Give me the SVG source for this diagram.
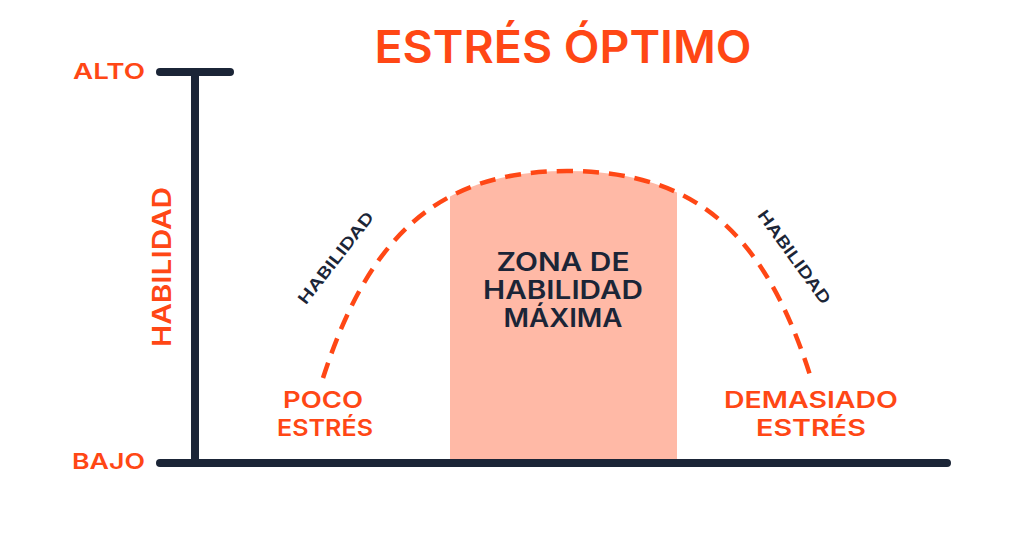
<svg xmlns="http://www.w3.org/2000/svg" width="1015" height="533" viewBox="0 0 1015 533">
<style>
.t{font-family:Inter,"Open Sans","Liberation Sans",sans-serif;font-weight:600}
.o{fill:#ff4715}
.n{fill:#1b2537}
.ax{stroke:#1b2537;stroke-width:8;stroke-linecap:round;fill:none}
.arc{stroke:#ff4715;stroke-width:4.5;fill:none;stroke-dasharray:16 10}
</style>
<defs>
<clipPath id="zc"><rect x="450" y="150" width="227" height="320"/></clipPath>
</defs>
<rect width="1015" height="533" fill="#ffffff"/>
<g id="zone">
<path d="M323,378 C368,238 437,171 567,171 C697,171 765,235 810,375 L810,462 L323,462 Z" fill="#ffb9a6" clip-path="url(#zc)"/>
<text class="t n" x="563" y="271" font-size="25" text-anchor="middle" textLength="133" lengthAdjust="spacingAndGlyphs">ZONA DE</text>
<text class="t n" x="563" y="299" font-size="25" text-anchor="middle" textLength="160" lengthAdjust="spacingAndGlyphs">HABILIDAD</text>
<text class="t n" x="563" y="327" font-size="25" text-anchor="middle" textLength="119" lengthAdjust="spacingAndGlyphs">MÁXIMA</text>
</g>
<g id="connectors">
<path class="ax" d="M160,72 L230,72"/>
<path class="ax" d="M195,72 L195,463"/>
<path class="ax" d="M160,463 L947,463"/>
<path class="arc" d="M323,378 C368,238 437,171 567,171 C697,171 765,235 810,375"/>
</g>
<g id="title">
<text class="t o" x="563" y="63" font-size="45" text-anchor="middle" textLength="377" lengthAdjust="spacingAndGlyphs">ESTRÉS ÓPTIMO</text>
</g>
<g id="alto">
<text class="t o" x="73" y="79" font-size="22" textLength="72" lengthAdjust="spacingAndGlyphs">ALTO</text>
</g>
<g id="bajo">
<text class="t o" x="72" y="469" font-size="22" textLength="73" lengthAdjust="spacingAndGlyphs">BAJO</text>
</g>
<g id="axis-label">
<text class="t o" x="171" y="267" font-size="26" text-anchor="middle" transform="rotate(-90 171 267)" textLength="160" lengthAdjust="spacingAndGlyphs">HABILIDAD</text>
</g>
<g id="hab-left">
<text class="t n" x="0" y="5.5" font-size="16" text-anchor="middle" transform="translate(336 258) rotate(-52)" textLength="112" lengthAdjust="spacingAndGlyphs">HABILIDAD</text>
</g>
<g id="hab-right">
<text class="t n" x="0" y="5.5" font-size="16" text-anchor="middle" transform="translate(794 257) rotate(54)" textLength="112" lengthAdjust="spacingAndGlyphs">HABILIDAD</text>
</g>
<g id="poco">
<text class="t o" x="323" y="408" font-size="23" text-anchor="middle" textLength="80" lengthAdjust="spacingAndGlyphs">POCO</text>
<text class="t o" x="325" y="436" font-size="23" text-anchor="middle" textLength="96" lengthAdjust="spacingAndGlyphs">ESTRÉS</text>
</g>
<g id="demasiado">
<text class="t o" x="811" y="408" font-size="23" text-anchor="middle" textLength="174" lengthAdjust="spacingAndGlyphs">DEMASIADO</text>
<text class="t o" x="811" y="436" font-size="23" text-anchor="middle" textLength="110" lengthAdjust="spacingAndGlyphs">ESTRÉS</text>
</g>
</svg>
